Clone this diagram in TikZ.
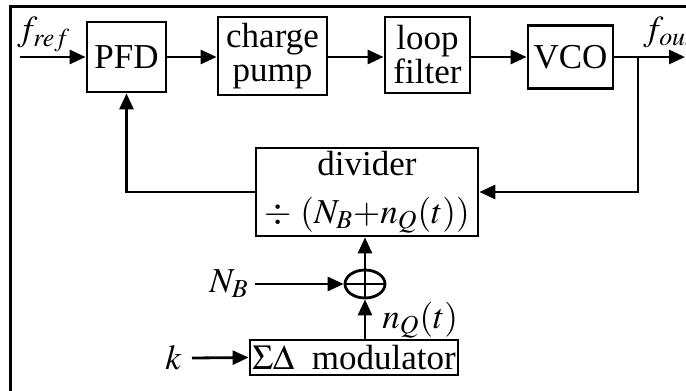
\documentclass[tikz,border=0pt]{standalone}
\usepackage{mathptmx}
\usepackage{fontspec}
\setmainfont{Liberation Serif}
\usepackage{tikz}
\usetikzlibrary{shapes.geometric, arrows.meta, positioning}

\tikzset{
  blk/.style={draw, line width=1.4pt, inner sep=0pt, align=center,
    font=\fontsize{17.5}{17}\selectfont},
  sig/.style={line width=1.4pt, -{Triangle[length=8pt,width=7pt]}},
  lbl/.style={inner sep=1pt, font=\fontsize{17.5}{19}\selectfont},
}

\begin{document}
\begin{tikzpicture}[x=0.5pt, y=-0.5pt]
    \useasboundingbox (0,0) rectangle (686,391);
    % Frame
    \draw[line width=1.5pt] (10,391) -- (10,6) -- (686,6);
    % Forward path
    \node[blk, minimum width=39.5pt, minimum height=35pt] (pfd) at (126.5,57) {PFD};
    \node[blk, minimum width=54.5pt, minimum height=39pt] (cp) at (272.5,56) {charge\\pump};
    \node[blk, minimum width=42.5pt, minimum height=38pt] (lf) at (427.5,55) {loop\\filter};
    \node[blk, minimum width=42.5pt, minimum height=31.5pt] (vco) at (570.5,57) {VCO};
    % Feedback path
    \node[blk, minimum width=111pt, minimum height=44pt, font=\fontsize{17.5}{24}\selectfont]
      (div) at (367,192) {divider\\$\div\ (N_B{+}n_Q(t))$};
    \node[draw, ellipse, line width=1.4pt, minimum width=20pt, minimum height=14pt,
      inner sep=0pt] (sum) at (365,284) {};
    \draw[line width=1.2pt] (sum.west) -- (sum.east) (sum.north) -- (sum.south);
    \node[blk, minimum width=104pt, minimum height=17.5pt] (mod) at (354,357.5) {$\Sigma\Delta$\ \ modulator};
    % Inputs and outputs
    \coordinate (frefin) at (20,57);
    \coordinate (fout) at (685,57);
    \coordinate (tap) at (638,57);
    \coordinate (nbin) at (255,284);
    \coordinate (kin) at (192,358);
    \node[lbl, anchor=south west] (freflbl) at (15,54) {$f_{ref}$};
    \node[lbl, anchor=south west] (foutlbl) at (641,50) {$f_{out}$};
    \node[lbl, anchor=east, xshift=-2pt] (nblbl) at (nbin) {$N_B$};
    \node[lbl, anchor=east, xshift=-4pt] (klbl) at (kin) {$k$};
    \node[lbl, anchor=west] (nqlbl) at (380,320) {$n_Q(t)$};
    % Connectors
    \draw[sig] (frefin) -- (pfd.west);
    \draw[sig] (pfd.east) -- (pfd.east -| cp.west);
    \draw[sig] (cp.east |- pfd.east) -- (pfd.east -| lf.west);
    \draw[sig] (lf.east |- pfd.east) -- (vco.west);
    \draw[sig] (vco.east) -- (fout);
    \draw[sig] (tap) |- (div.east);
    \draw[sig] (div.west) -| (pfd.south);
    \draw[sig] (sum.north) -- (sum.north |- div.south);
    \draw[sig] (sum.south |- mod.north) -- (sum.south);
    \draw[sig] (nbin) -- (sum.west);
    \draw[sig] (kin) -- (mod.west);
\end{tikzpicture}
\end{document}
